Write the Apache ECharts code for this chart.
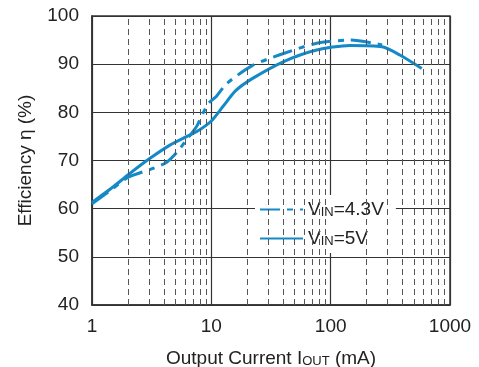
<!DOCTYPE html>
<html>
<head>
<meta charset="utf-8">
<script src="https://cdn.jsdelivr.net/npm/echarts@6/dist/echarts.min.js"></script>
<style>
  html, body { margin: 0; padding: 0; background: #fff; }
  #chart { width: 479px; height: 367px; }
</style>
</head>
<body>
<div id="chart"></div>
<script>
// Output current (mA) and efficiency (%)
const current43 = [1, 1.5, 2, 3.2, 4.2, 5.1, 6.2, 7.5, 8.5, 9.5, 11, 13.5, 22, 38, 75, 145, 270];
const eff43 = [61, 64.2, 66.5, 68.3, 69.6, 71.6, 74.3, 77, 79.8, 81.9, 83.3, 86, 89.7, 92, 94.3, 95, 94];

const current5 = [1, 1.5, 2, 3, 4.5, 6.5, 8, 10, 12.5, 16, 22, 40, 75, 145, 270, 380, 580];
const eff5 = [61.3, 64.5, 67, 70.3, 73.2, 75.2, 76.4, 78.2, 81.2, 84.5, 87, 90.5, 92.9, 93.9, 93.6, 91.9, 89.1];

const seriesNames = ['4.3V', '5V'];
const minorGrid = [2, 3, 4, 5, 6, 7, 8, 9, 20, 30, 40, 50, 60, 70, 80, 90, 200, 300, 400, 500, 600, 700, 800, 900];

const blue = '#1489c8';
const ink = '#222';
const gridColor = '#333';
const font = 'Liberation Sans, Arial, sans-serif';

const chart = echarts.init(document.getElementById('chart'));

const option = {
  animation: false,
  textStyle: { fontFamily: font },
  grid: {
    left: 92,
    right: 29,
    top: 16,
    bottom: 62,
    outerBoundsMode: 'none',
    show: true,
    borderColor: gridColor,
    borderWidth: 1.5,
  },
  legend: {
    orient: 'vertical',
    left: 255,
    top: 195,
    padding: [5, 12, 5, 4],
    itemGap: 10,
    itemWidth: 43,
    itemHeight: 18,
    backgroundColor: '#fff',
    data: seriesNames,
    itemStyle: { opacity: 0 },
    formatter: (name) => 'V{s|IN}=' + name,
    textStyle: {
      fontSize: 19,
      color: ink,
      fontFamily: font,
      rich: {
        s: { fontSize: 13, verticalAlign: 'bottom', color: ink, fontFamily: font },
      },
    },
  },
  xAxis: {
    type: 'log',
    logBase: 10,
    min: 1,
    max: 1000,
    name: 'Output Current I{s|OUT} (mA)',
    nameLocation: 'middle',
    nameGap: 44,
    nameTextStyle: {
      fontSize: 19,
      color: ink,
      fontFamily: font,
      rich: {
        s: { fontSize: 13, verticalAlign: 'bottom', color: ink, fontFamily: font },
      },
    },
    axisLine: { show: true, lineStyle: { color: gridColor, width: 1.5 } },
    axisTick: { show: false },
    axisLabel: { fontSize: 19, color: ink, margin: 12, formatter: (v) => String(v) },
    splitLine: { show: true, lineStyle: { color: gridColor, width: 1.2 } },
    minorTick: { show: false },
    minorSplitLine: { show: false },
  },
  yAxis: {
    type: 'value',
    min: 40,
    max: 100,
    interval: 10,
    name: 'Efficiency η (%)',
    nameLocation: 'middle',
    nameGap: 57,
    nameTextStyle: { fontSize: 19, color: ink },
    axisLine: { show: true, lineStyle: { color: gridColor, width: 1.5 } },
    axisTick: { show: false },
    axisLabel: { fontSize: 19, color: ink, margin: 13 },
    splitLine: { show: true, lineStyle: { color: gridColor, width: 1.2 } },
  },
  series: [
    {
      name: 'minor',
      type: 'line',
      data: [],
      silent: true,
      markLine: {
        silent: true,
        symbol: 'none',
        label: { show: false },
        lineStyle: { color: '#555', width: 1, type: [6, 4] },
        data: minorGrid.map((v) => ({ xAxis: v })),
      },
    },
    {
      name: seriesNames[0],
      type: 'line',
      smooth: 0.25,
      symbol: 'none',
      z: 3,
      lineStyle: { color: blue, width: 3, type: [20, 7, 6, 7] },
      itemStyle: { color: blue },
      data: current43.map((c, i) => [c, eff43[i]]),
    },
    {
      name: seriesNames[1],
      type: 'line',
      smooth: 0.25,
      symbol: 'none',
      z: 3,
      lineStyle: { color: blue, width: 3 },
      itemStyle: { color: blue },
      data: current5.map((c, i) => [c, eff5[i]]),
    },
  ],
};

chart.setOption(option);
</script>
</body>
</html>
